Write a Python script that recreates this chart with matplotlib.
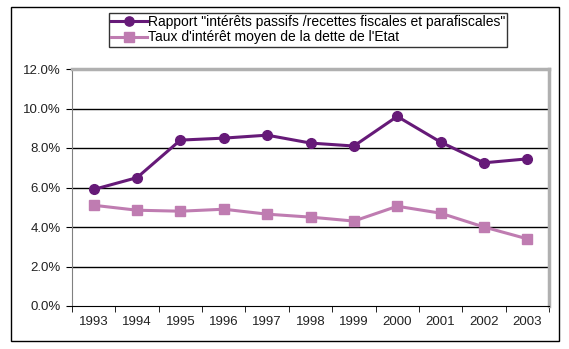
import matplotlib
matplotlib.use("Agg")
import matplotlib.pyplot as plt
from matplotlib.patches import Rectangle

plt.rcParams["font.family"] = ["Liberation Sans", "DejaVu Sans"]

years = ["1993", "1994", "1995", "1996", "1997", "1998", "1999", "2000", "2001", "2002", "2003"]
ratio = [5.9, 6.5, 8.4, 8.5, 8.65, 8.25, 8.1, 9.6, 8.3, 7.25, 7.45]
rate = [5.1, 4.85, 4.8, 4.9, 4.65, 4.5, 4.3, 5.05, 4.7, 4.0, 3.4]
label_ratio = 'Rapport "intérêts passifs /recettes fiscales et parafiscales"'
label_rate = "Taux d'intérêt moyen de la dette de l'Etat"

PURPLE = "#661a78"
PINK = "#bf7cb1"
TEXT = "#222222"

W, H = 569, 349
fig = plt.figure(figsize=(W / 100, H / 100), dpi=100)
fig.patch.set_facecolor("white")

# outer chart frame
fig.add_artist(Rectangle((11 / W, 1 - 341 / H), (559 - 11) / W, (341 - 7) / H,
                         transform=fig.transFigure, fill=False, edgecolor="black", linewidth=1.0))

ax = fig.add_axes([72 / W, 1 - 306 / H, (549 - 72) / W, (306 - 69) / H])
x = list(range(len(years)))
ax.plot(x, ratio, color=PURPLE, linewidth=2.2, marker="o", markersize=7, label=label_ratio)
ax.plot(x, rate, color=PINK, linewidth=2.2, marker="s", markersize=7, label=label_rate)

ax.set_xlim(-0.5, len(years) - 0.5)
ax.set_ylim(0, 12)
yt = [0, 2, 4, 6, 8, 10, 12]
ax.set_yticks(yt)
ax.set_yticklabels([f"{v:.1f}%" for v in yt])
ax.set_xticks(x)
ax.set_xticklabels(years)
ax.set_xticks([i - 0.5 for i in range(len(years) + 1)], minor=True)
ax.tick_params(axis="x", which="major", length=0, pad=7, labelsize=9.5, labelcolor=TEXT)
ax.tick_params(axis="x", which="minor", length=4, direction="out", color="black")
ax.tick_params(axis="y", length=4, direction="out", labelsize=9.5, pad=4,
               color="black", labelcolor=TEXT)

for v in [2, 4, 6, 8, 10]:
    ax.axhline(v, color="black", linewidth=1.0, zorder=0)

ax.spines["left"].set_color("#808080")
ax.spines["bottom"].set_color("black")
ax.spines["top"].set_color("#b0b0b0")
ax.spines["top"].set_linewidth(2.5)
ax.spines["right"].set_color("#b0b0b0")
ax.spines["right"].set_linewidth(2.5)

leg = fig.legend(loc="upper left", bbox_to_anchor=(109 / W, 1 - 13 / H),
                 frameon=True, fancybox=False, fontsize=10, handlelength=2.6,
                 handletextpad=0.05, borderpad=0.15, labelspacing=0.1,
                 borderaxespad=0, markerscale=0.95)
leg.get_frame().set_edgecolor("black")
leg.get_frame().set_linewidth(1.0)

fig.savefig("out.png", dpi=100)
